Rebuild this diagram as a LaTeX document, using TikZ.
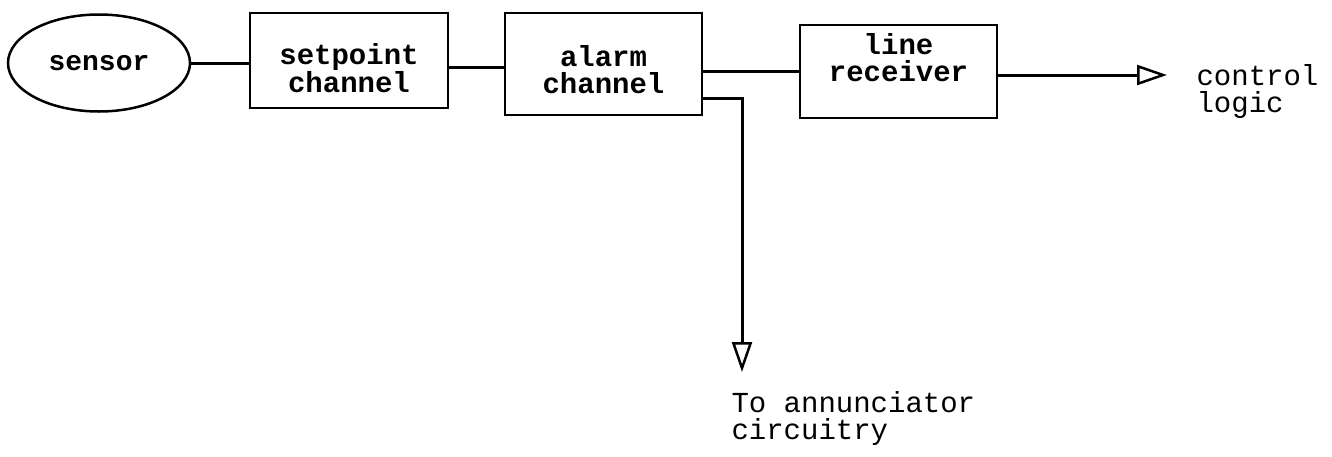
\documentclass[tikz,border=0pt]{standalone}
\usepackage{fontspec}
\setmonofont{Liberation Mono}
\usetikzlibrary{arrows.meta,positioning,shapes.geometric}
\tikzset{
  block/.style={draw,line width=2.5pt,minimum width=197pt},
  blocktext/.style={align=center,font=\ttfamily\bfseries\fontsize{29}{27}\selectfont},
  note/.style={anchor=west,align=left,font=\ttfamily\fontsize{29}{27}\selectfont},
  wire/.style={line width=3pt},
  feed/.style={wire,-{Triangle[open,length=30pt,width=20pt,line width=2.5pt]}}
}

\begin{document}
\begin{tikzpicture}[x=1pt,y=-1pt]
  \useasboundingbox (0,0) rectangle (1332,456);
  % blocks of the channel
  \node[block,blocktext,ellipse,minimum width=182pt,minimum height=97pt,inner sep=0pt,
    font=\ttfamily\bfseries\fontsize{28}{27}\selectfont] (sensor) at (99,63) {sensor};
  \node[block,minimum width=198pt,minimum height=95pt] (setpoint) at (349,60.5) {};
  \node[block,minimum height=102pt] (alarm) at (603.5,64) {};
  \node[block,minimum height=93pt] (receiver) at (898.5,71.5) {};
  \node[blocktext] (setpointtxt) at ([yshift=-8pt]setpoint.center) {setpoint\\channel};
  \node[blocktext] (alarmtxt) at ([yshift=-5.5pt]alarm.center) {alarm\\channel};
  \node[blocktext] (receivertxt) at ([yshift=13.5pt]receiver.center) {line\\receiver};
  % outputs
  \node[note] (logic) at (1193,91) {control\\logic};
  \node[note] (annun) at (728,418.5) {To annunciator\\circuitry};
  \coordinate (logicin) at (1167,75);
  \coordinate (tap) at (742,98);
  \coordinate (annin) at (742,372);
  % wiring
  \draw[wire] (sensor.east) -- (sensor.east -| setpoint.west);
  \draw[wire] ([yshift=-3pt]alarm.west -| setpoint.east) -- ([yshift=-3pt]alarm.west);
  \draw[wire] (alarm.east |- receiver.west) -- (receiver.west);
  \draw[feed] (receiver.east |- logicin) -- (logicin);
  \draw[feed] (alarm.east |- tap) -- (tap) -- (annin);
\end{tikzpicture}
\end{document}
